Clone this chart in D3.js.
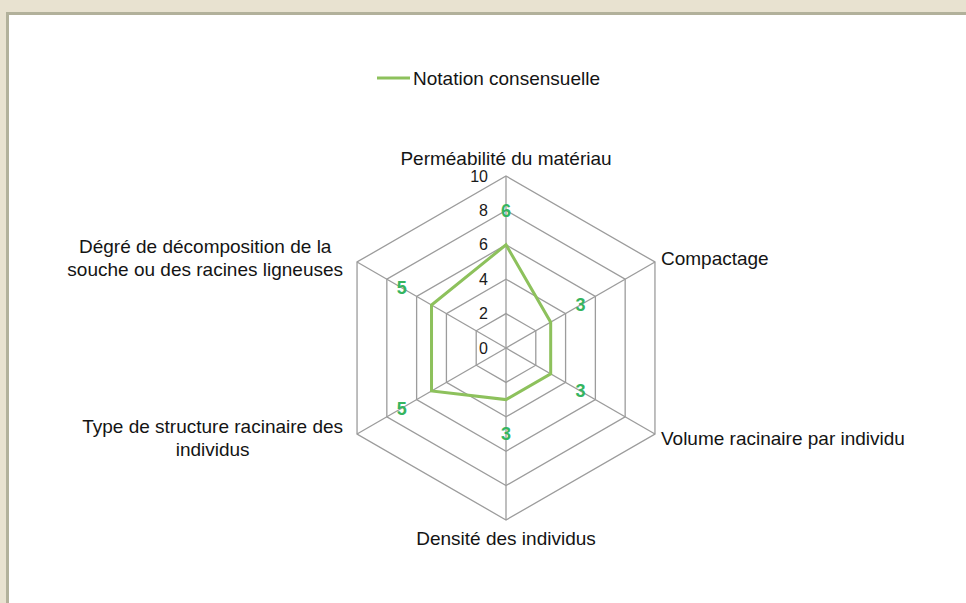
<!DOCTYPE html>
<html>
<head>
<meta charset="utf-8">
<script src="https://cdn.jsdelivr.net/npm/d3@7"></script>
<style>
	body { margin: 0; background: #e8e2d0; }
	svg text { font-family: "Liberation Sans", Arial, sans-serif; }
</style>
</head>
<body>
<div id="radar"></div>
<script>
// Data
const axes = [
	["Perméabilité du matériau"],
	["Compactage"],
	["Volume racinaire par individu"],
	["Densité des individus"],
	["Type de structure racinaire des", "individus"],
	["Dégré de décomposition de la", "souche ou des racines ligneuses"]
]
const values = [6, 3, 3, 3, 5, 5]
const ticks = [0, 2, 4, 6, 8, 10]
const seriesName = "Notation consensuelle"

const store = {
	width: 966,
	height: 603,
	cx: 506,
	cy: 348,
	radius: 172
}

function makePlot(store) {
	const svg = d3.select("#radar")
		.append("svg")
		.attr("width", store.width)
		.attr("height", store.height)
		.style("display", "block")

	// Panel and its border
	svg.append("rect")
		.attr("x", 6).attr("y", 12)
		.attr("width", store.width).attr("height", store.height)
		.attr("fill", "white")
	svg.append("path")
		.attr("d", `M7.5,${store.height} V13.5 H${store.width}`)
		.attr("fill", "none")
		.attr("stroke", "#b2b19b")
		.attr("stroke-width", 3)

	const container = svg.append("g")
		.attr("transform", `translate(${store.cx},${store.cy})`)

	const rScale = d3.scaleLinear()
		.domain([0, 10])
		.range([0, store.radius])

	// one axis every 60 degrees, starting at the top
	const step = 2 * Math.PI / axes.length
	const ang = (i) => i * step
	const px = (i, v) => rScale(v) * Math.sin(ang(i))
	const py = (i, v) => -rScale(v) * Math.cos(ang(i))

	// Grid rings
	const ring = d3.line()
	container.append("g").selectAll("path")
		.data(ticks.filter(t => t > 0))
		.join("path")
		.attr("d", (t) => ring(axes.map((a, i) => [px(i, t), py(i, t)])) + "Z")
		.attr("fill", "none")
		.attr("stroke", "#9c9c9c")
		.attr("stroke-width", 1.3)

	// Spokes
	container.append("g").selectAll("line")
		.data(axes)
		.join("line")
		.attr("x1", 0).attr("y1", 0)
		.attr("x2", (d, i) => px(i, 10))
		.attr("y2", (d, i) => py(i, 10))
		.attr("stroke", "#9c9c9c")
		.attr("stroke-width", 1.3)

	// Tick labels
	container.append("g").selectAll("text")
		.data(ticks)
		.join("text")
		.attr("x", -18)
		.attr("y", (t) => -rScale(t))
		.attr("dy", "0.35em")
		.attr("text-anchor", "end")
		.attr("font-size", "16px")
		.attr("fill", "#1a1a1a")
		.text((t) => t)

	// Series line
	container.append("path")
		.attr("d", ring(values.map((v, i) => [px(i, v), py(i, v)])) + "Z")
		.attr("fill", "none")
		.attr("stroke", "#8dc15c")
		.attr("stroke-width", 3)
		.attr("stroke-linejoin", "miter")

	// Value labels
	container.append("g").selectAll("text")
		.data(values)
		.join("text")
		.attr("x", (v, i) => px(i, v + 2))
		.attr("y", (v, i) => py(i, v + 2))
		.attr("dy", "0.36em")
		.attr("text-anchor", "middle")
		.attr("font-size", "18px")
		.attr("font-weight", "bold")
		.attr("fill", "#35b55f")
		.text((v) => v)

	// Axis labels
	const lineH = 23
	container.append("g").selectAll("text")
		.data(axes)
		.join("text")
		.attr("font-size", "19px")
		.attr("fill", "#141414")
		.each(function (lines, i) {
			const t = d3.select(this)
			const vx = px(i, 10), vy = py(i, 10)
			const s = Math.sin(ang(i))
			let x, y, anchor
			if (Math.abs(s) < 0.01) {
				anchor = "middle"
				x = vx
				y = vy < 0 ? vy - 18 : vy + 18
			} else {
				anchor = s > 0 ? "start" : "middle"
				x = s > 0 ? vx + 6 : vx - 14
				y = vy < 0 ? vy - 4 : vy + 4
			}
			const y0 = y - (lines.length - 1) * lineH / 2
			lines.forEach((l, k) => {
				t.append("tspan")
					.attr("x", x)
					.attr("y", y0 + k * lineH)
					.attr("dy", "0.35em")
					.text(l)
			})
			t.attr("text-anchor", anchor)
			if (anchor === "middle" && s < 0) {
				// right edge of the widest line sits next to the vertex
				const w = this.getBBox().width
				t.selectAll("tspan").attr("x", x - w / 2)
			}
		})

	// Legend
	const legend = svg.append("g").attr("transform", "translate(377,78)")
	legend.append("line")
		.attr("x1", 0).attr("x2", 33)
		.attr("stroke", "#8dc15c")
		.attr("stroke-width", 3)
	legend.append("text")
		.attr("x", 36)
		.attr("dy", "0.35em")
		.attr("font-size", "19px")
		.attr("fill", "#141414")
		.text(seriesName)
}

makePlot(store)
</script>
</body>
</html>
